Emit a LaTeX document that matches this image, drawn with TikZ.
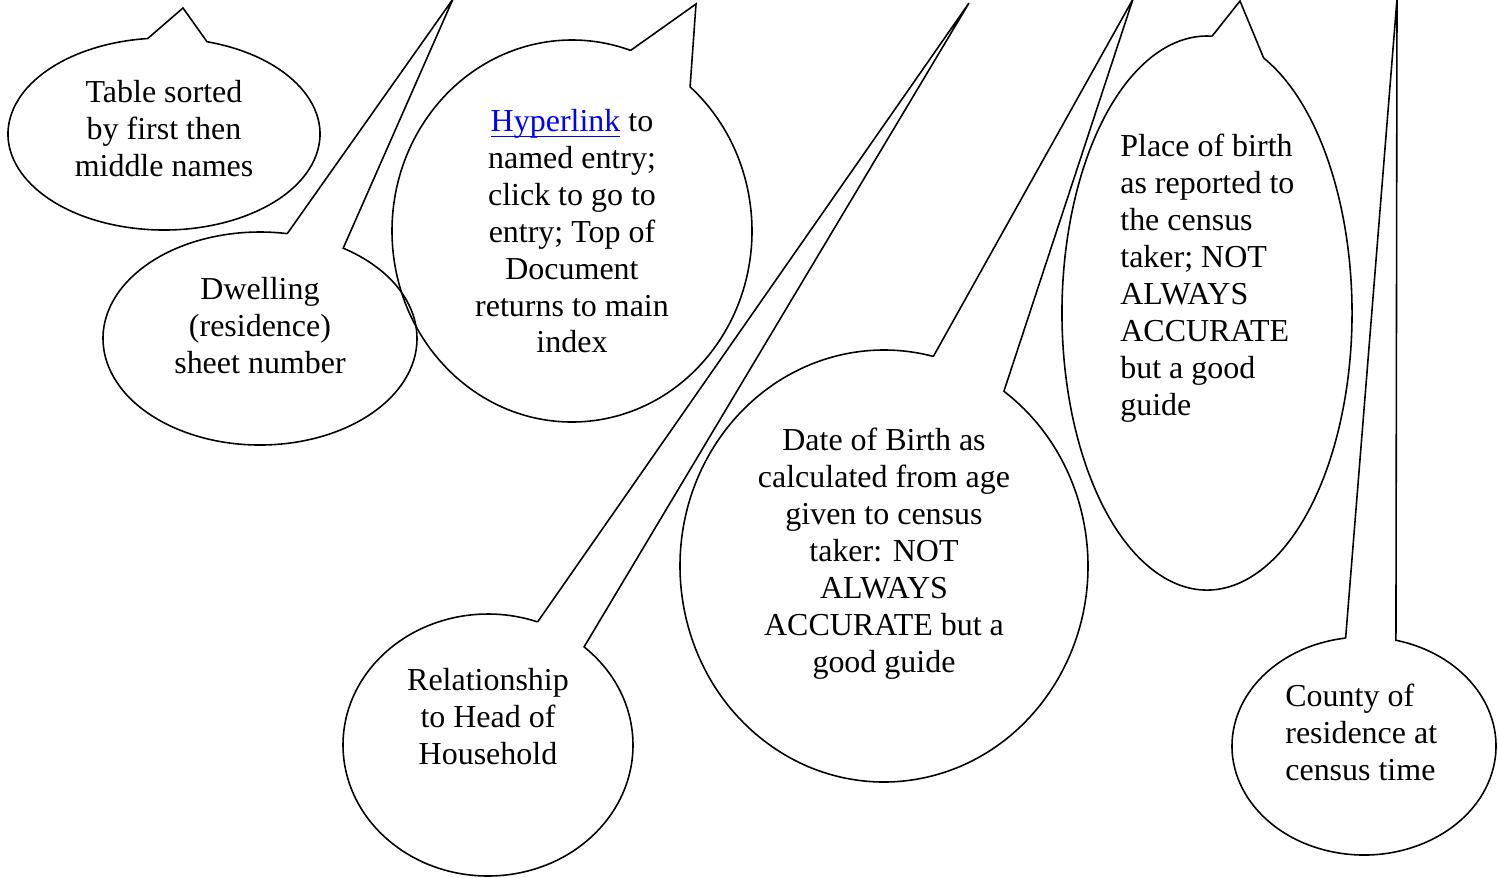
\documentclass[tikz,border=0pt]{standalone}
\usepackage{fontspec}
\setmainfont{Liberation Serif}
\newcommand{\hlink}[1]{\textcolor{blue}{\setbox0\hbox{#1}\rlap{\rule[-3pt]{\wd0}{0.7pt}}\box0}}
\tikzset{
  bubble/.style={draw=black, line width=0.9pt},
  note/.style={font=\fontsize{18.2}{21}\selectfont, inner sep=0pt, align=center, anchor=north}
}
\begin{document}
\begin{tikzpicture}[x=0.02cm, y=-0.02cm]
\clip (0,0) rectangle (1498,877);
\foreach \nm/\cx/\cy/\rx/\ry/\ta/\tb/\tx/\ty in {tab/164/134/156/96/264/-74/183/8,
  dwel/260/338.5/157/106.5/280/-58/453/-1, link/572/231/180/191/289/-49/696/4,
  rel/488/745/145/131/290/-48.5/969/3, dob/884/566/204/216/284/-54/1133/-1,
  pob/1207/313/145/277/272/-67/1240/1, cty/1364/746/132/109/262/-76/1397/-1}{
  \coordinate (\nm-a) at ({\cx+\rx*cos(\ta)},{\cy+\ry*sin(\ta)});
  \coordinate (\nm-b) at ({\cx+\rx*cos(\tb)},{\cy+\ry*sin(\tb)});
  \coordinate (\nm-tip) at (\tx,\ty);
  \draw[bubble] (\nm-a) -- (\nm-tip) -- (\nm-b)
    arc[start angle=\tb, end angle=\ta, x radius=\rx, y radius=\ry];
}
\node[note] (tab-txt) at (164,80) {Table sorted\\by first then\\middle names};
\node[note] (dwel-txt) at (260,277) {Dwelling\\(residence)\\sheet number};
\node[note] (link-txt) at (572,109) {\hlink{Hyperlink} to\\named entry;\\click to go to\\entry; Top of\\Document\\returns to main\\index};
\node[note] (rel-txt) at (488,668) {Relationship\\to Head of\\Household};
\node[note] (dob-txt) at (884,428) {Date of Birth as\\calculated from age\\given to census\\taker: NOT\\ALWAYS\\ACCURATE but a\\good guide};
\node[note, anchor=north west, align=left] (pob-txt) at (1120,134) {Place of birth\\as reported to\\the census\\taker; NOT\\ALWAYS\\ACCURATE\\but a good\\guide};
\node[note, anchor=north west, align=left] (cty-txt) at (1285,684) {County of\\residence at\\census time};
\end{tikzpicture}
\end{document}
